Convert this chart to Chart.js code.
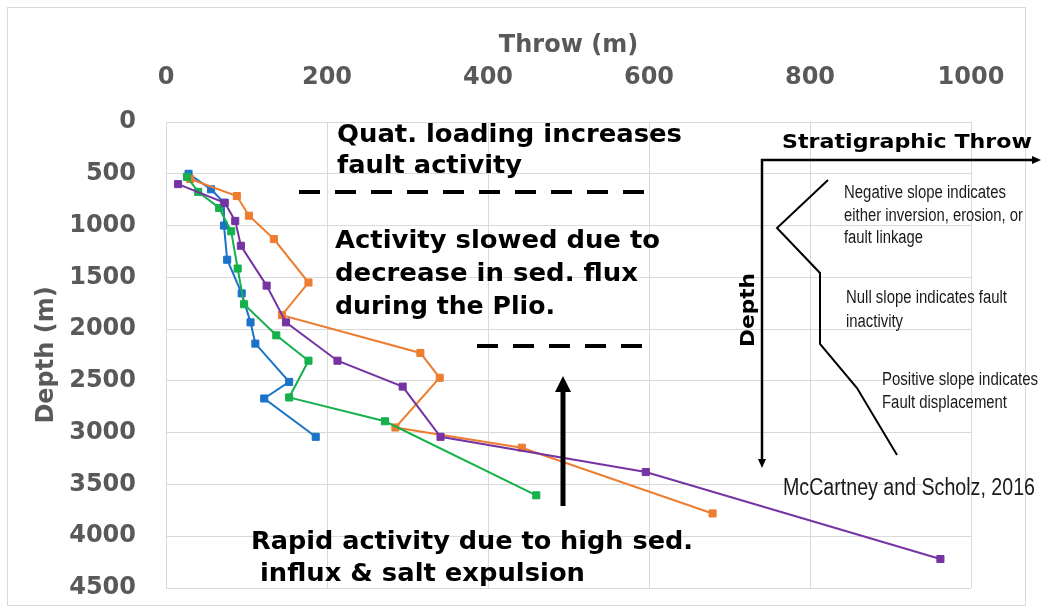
<!DOCTYPE html>
<html>
<head>
<meta charset="utf-8">
<script src="https://cdn.jsdelivr.net/npm/chart.js@4.4.1/dist/chart.umd.min.js"></script>
<style>
  body { margin: 0; background: #fff; }
  #wrap { width: 1041px; height: 612px; }
</style>
</head>
<body>
<div id="wrap"><canvas id="throw_depth" width="1041" height="612"></canvas></div>
<script>
// throw (m) against depth (m), one pair of arrays per fault
let faultAThrow = [28, 56, 72, 72, 76, 94, 105, 111, 153, 122, 186];
let faultADepth = [500, 650, 780, 1000, 1330, 1655, 1935, 2140, 2510, 2670, 3040];

let faultBThrow = [30, 88, 103, 134, 177, 144, 316, 340, 285, 442, 679];
let faultBDepth = [550, 715, 905, 1130, 1550, 1865, 2230, 2470, 2950, 3145, 3780];

let faultCThrow = [26, 40, 66, 81, 89, 97, 137, 177, 153, 272, 460];
let faultCDepth = [530, 675, 830, 1055, 1415, 1760, 2060, 2305, 2660, 2890, 3605];

let faultDThrow = [15, 73, 86, 93, 125, 149, 213, 294, 341, 596, 962];
let faultDDepth = [600, 780, 955, 1195, 1580, 1935, 2305, 2555, 3040, 3380, 4220];

let throwTicks = [0, 200, 400, 600, 800, 1000];
let depthTicks = [0, 500, 1000, 1500, 2000, 2500, 3000, 3500, 4000, 4500];

function pairs(xs, ys) {
    return xs.map(function (x, i) { return {x: x, y: ys[i]}; });
}

function series(xs, ys, color, order) {
    return {
        data: pairs(xs, ys),
        showLine: true,
        borderColor: color,
        backgroundColor: color,
        borderWidth: 2,
        pointStyle: "rect",
        pointRadius: 5,
        pointBorderWidth: 1,
        tension: 0,
        order: order
    };
}

// squeeze/stretch a line of text so it spans exactly w pixels
function fitText(ctx, text, x, y, w) {
    let m = ctx.measureText(text).width;
    ctx.save();
    ctx.translate(x, y);
    ctx.scale(w / m, 1);
    ctx.fillText(text, 0, 0);
    ctx.restore();
}

function arrowHead(ctx, tx, ty, dx, dy, len, half) {
    let bx = tx - dx * len, by = ty - dy * len;
    ctx.beginPath();
    ctx.moveTo(tx, ty);
    ctx.lineTo(bx - dy * half, by + dx * half);
    ctx.lineTo(bx + dy * half, by - dx * half);
    ctx.closePath();
    ctx.fill();
}

const frame = {
    id: "frame",
    beforeDraw(chart) {
        let ctx = chart.ctx;
        ctx.save();
        ctx.fillStyle = "#fff";
        ctx.fillRect(0, 0, chart.width, chart.height);
        ctx.strokeStyle = "#d9d9d9";
        ctx.lineWidth = 1;
        ctx.strokeRect(7.5, 7.5, 1018, 598);
        ctx.restore();
    }
};

const notes = {
    id: "notes",
    afterDraw(chart) {
        let ctx = chart.ctx;
        ctx.save();
        ctx.fillStyle = "#000";
        ctx.strokeStyle = "#000";
        ctx.textBaseline = "alphabetic";

        // interpretation text
        ctx.font = "bold 25px 'DejaVu Sans'";
        fitText(ctx, "Quat. loading increases", 337, 142, 345);
        fitText(ctx, "fault activity", 337, 173, 185);
        fitText(ctx, "Activity slowed due to", 335, 248, 325);
        fitText(ctx, "decrease in sed. flux", 335, 281, 303);
        fitText(ctx, "during the Plio.", 335, 314, 220);
        fitText(ctx, "Rapid activity due to high sed.", 251, 549, 442);
        fitText(ctx, "influx & salt expulsion", 260, 581, 325);

        // dashed boundaries
        ctx.lineWidth = 4;
        ctx.setLineDash([21, 15]);
        ctx.beginPath();
        ctx.moveTo(299, 192);
        ctx.lineTo(644, 192);
        ctx.moveTo(477, 346);
        ctx.lineTo(642, 346);
        ctx.stroke();
        ctx.setLineDash([]);

        // upward arrow
        ctx.lineWidth = 5;
        ctx.beginPath();
        ctx.moveTo(563, 506);
        ctx.lineTo(563, 390);
        ctx.stroke();
        arrowHead(ctx, 563, 376, 0, -1, 16, 8);

        // schematic: stratigraphic throw vs depth
        ctx.lineWidth = 2.5;
        ctx.beginPath();
        ctx.moveTo(1034, 160);
        ctx.lineTo(762, 160);
        ctx.lineTo(762, 460);
        ctx.stroke();
        arrowHead(ctx, 1041, 160, 1, 0, 9, 4);
        arrowHead(ctx, 762, 468, 0, 1, 9, 4);

        ctx.lineWidth = 2;
        ctx.beginPath();
        ctx.moveTo(828, 180);
        ctx.lineTo(777, 228);
        ctx.lineTo(820, 273);
        ctx.lineTo(820, 344);
        ctx.lineTo(857, 388);
        ctx.lineTo(897, 455);
        ctx.stroke();

        ctx.font = "bold 19px 'DejaVu Sans'";
        fitText(ctx, "Stratigraphic Throw", 782, 148, 250);
        ctx.save();
        ctx.translate(754, 347);
        ctx.rotate(-Math.PI / 2);
        fitText(ctx, "Depth", 0, 0, 74);
        ctx.restore();

        ctx.fillStyle = "#1a1a1a";
        ctx.font = "18px 'Liberation Sans Narrow', 'Liberation Sans'";
        fitText(ctx, "Negative slope indicates", 844, 198, 162);
        fitText(ctx, "either inversion, erosion, or", 844, 221, 179);
        fitText(ctx, "fault linkage", 844, 243, 79);
        fitText(ctx, "Null slope indicates fault", 846, 303, 161);
        fitText(ctx, "inactivity", 846, 327, 57);
        fitText(ctx, "Positive slope indicates", 882, 385, 156);
        fitText(ctx, "Fault displacement", 882, 408, 125);
        ctx.font = "23px 'Liberation Sans Narrow', 'Liberation Sans'";
        fitText(ctx, "McCartney and Scholz, 2016", 783, 495, 252);

        ctx.restore();
    }
};

const axisFont = {family: "'DejaVu Sans'", size: 24, weight: "bold"};

function plainNumber(v) { return String(v); }

new Chart("throw_depth", {
    type: "scatter",
    data: {
        datasets: [
            series(faultAThrow, faultADepth, "#1b73c8", 3),
            series(faultBThrow, faultBDepth, "#ed7d31", 2),
            series(faultCThrow, faultCDepth, "#16b04c", 1),
            series(faultDThrow, faultDDepth, "#7533a3", 0)
        ]
    },
    options: {
        responsive: false,
        animation: false,
        layout: {padding: {top: 20, left: 10, right: 70, bottom: 24}},
        plugins: {
            legend: {display: false},
            tooltip: {enabled: false}
        },
        scales: {
            x: {
                type: "linear",
                position: "top",
                min: 0,
                max: 1000,
                afterFit: function (scale) {
                    scale.height = 102;
                    scale.paddingRight = 10;
                },
                afterBuildTicks: function (scale) {
                    scale.ticks = throwTicks.map(function (v) { return {value: v}; });
                },
                grid: {color: "#d9d9d9", drawTicks: false},
                border: {color: "#d9d9d9"},
                ticks: {color: "#595959", font: axisFont, padding: 30, maxRotation: 0, callback: plainNumber},
                title: {
                    display: true,
                    text: "Throw (m)",
                    color: "#595959",
                    font: axisFont,
                    padding: {top: 11, bottom: 0}
                }
            },
            y: {
                type: "linear",
                reverse: true,
                min: 0,
                max: 4500,
                afterFit: function (scale) {
                    scale.width = 156;
                    // keep the label overhang from eating into the plot height
                    scale.paddingTop = 10;
                    scale.paddingBottom = 10;
                },
                afterBuildTicks: function (scale) {
                    scale.ticks = depthTicks.map(function (v) { return {value: v}; });
                },
                grid: {color: "#d9d9d9", drawTicks: false},
                border: {color: "#d9d9d9"},
                ticks: {color: "#595959", font: axisFont, padding: 30, callback: plainNumber},
                title: {
                    display: true,
                    text: "Depth (m)",
                    color: "#595959",
                    font: axisFont,
                    padding: {top: 22, bottom: 0}
                }
            }
        }
    },
    plugins: [frame, notes]
});
</script>
</body>
</html>
